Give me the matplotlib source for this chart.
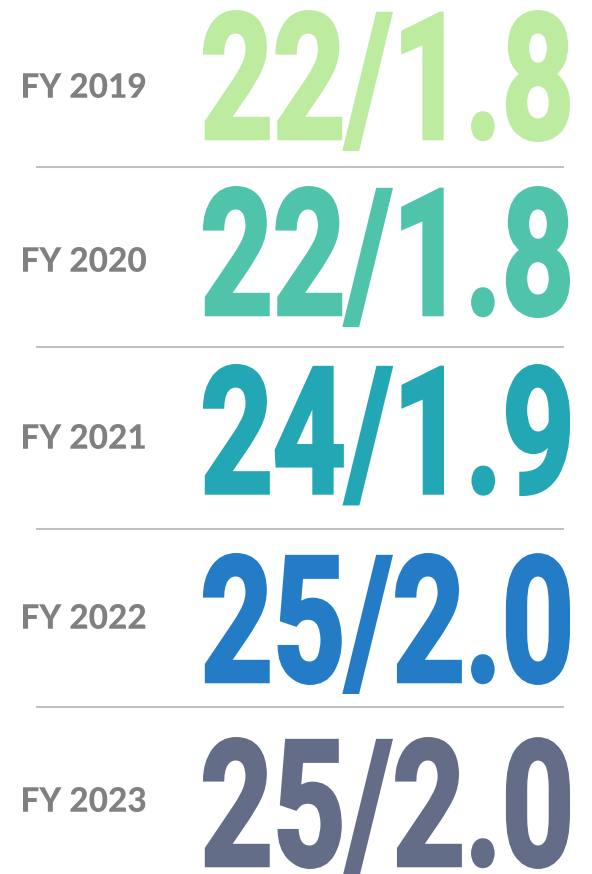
import matplotlib
matplotlib.use('Agg')
import matplotlib.pyplot as plt
from matplotlib import patheffects
from matplotlib.textpath import TextPath
from matplotlib.font_manager import FontProperties
from matplotlib.transforms import Affine2D

# chart content
years = ['FY 2019', 'FY 2020', 'FY 2021', 'FY 2022', 'FY 2023']
values = ['22/1.8', '22/1.8', '24/1.9', '25/2.0', '25/2.0']
colors = ['#bdeba0', '#4fc4ab', '#24a7b4', '#237cc5', '#646d88']

W, H, DPI = 592, 874, 100
K = DPI / 72.0  # points -> pixels

# layout (pixels, y measured from the top)
value_base = [142, 318, 496, 685, 869]
value_height = 132
value_x = (203, 570)
label_base = [98, 272, 449, 629, 812]
label_height = 25
label_x = 23
label_w = 123
rule_y = [167, 347, 529, 707]
rule_x = (36, 564)


class Stretch(patheffects.AbstractPathEffect):
    """Draw the glyph outlines scaled by (sx, sy) with the text origin moved to anchor."""
    def __init__(self, sx, sy, anchor, lw=0.0):
        super().__init__()
        self.sx, self.sy, self.anchor, self.lw = sx, sy, anchor, lw

    def draw_path(self, renderer, gc, tpath, affine, rgbFace=None):
        m = affine.get_matrix()
        ox, oy = m[0, 2], m[1, 2]
        t = affine + Affine2D().translate(-ox, -oy).scale(self.sx, self.sy).translate(*self.anchor)
        gc0 = renderer.new_gc()
        gc0.copy_properties(gc)
        if self.lw and rgbFace is not None:
            gc0.set_linewidth(self.lw)
            gc0.set_foreground(rgbFace)
            gc0.set_joinstyle('miter')
        renderer.draw_path(gc0, tpath, t, rgbFace)
        gc0.restore()


def ink(s, fp, size):
    e = TextPath((0, 0), s, size=size, prop=fp).get_extents()
    return e.x0 * K, e.x1 * K, e.y0 * K, e.y1 * K


def fit_text(ax, s, x0, width, base, height, color, fp, size, lw=0.0):
    # size is chosen so the natural width already fits; only the height is stretched
    pad = lw * K / 2
    ix0, ix1, _, _ = ink(s, fp, size)
    _, _, iy0, iy1 = ink(s.replace('/', '').replace('.', ''), fp, size)
    sx = 1.0
    sy = (height - 2 * pad) / (iy1 - iy0)
    anchor = (x0 + pad - sx * ix0, (H - base) + pad - sy * iy0)
    ax.text(x0 + width / 2, base - height / 2, s, fontproperties=fp, fontsize=size,
            color=color, ha='center', va='center',
            path_effects=[Stretch(sx, sy, anchor, lw)])


fig = plt.figure(figsize=(W / DPI, H / DPI), dpi=DPI)
ax = fig.add_axes([0, 0, 1, 1])
ax.set_xlim(0, W)
ax.set_ylim(H, 0)
ax.axis('off')

big_fp = FontProperties(family=['Roboto', 'DejaVu Sans'], weight='bold')
lab_fp = FontProperties(family=['Lato', 'DejaVu Sans'], weight=900)

big_lw = 2.5
big_w = value_x[1] - value_x[0]

# label size from the widest label, shared by all rows
lx0, lx1, _, _ = ink('FY 2020', lab_fp, 20)
lab_size = 20 * label_w / (lx1 - lx0)

for i in range(len(years)):
    bx0, bx1, _, _ = ink(values[i], big_fp, 100)
    big_size = 100 * (big_w - big_lw * K) / (bx1 - bx0)
    fit_text(ax, values[i], value_x[0], big_w, value_base[i], value_height,
             colors[i], big_fp, big_size, lw=big_lw)
    fit_text(ax, years[i], label_x, label_w, label_base[i], label_height,
             '#808080', lab_fp, lab_size)

ax.hlines(rule_y, rule_x[0], rule_x[1], color='#c0c0c0', linewidth=1.5)

fig.savefig('out.png', dpi=DPI, facecolor='white')
